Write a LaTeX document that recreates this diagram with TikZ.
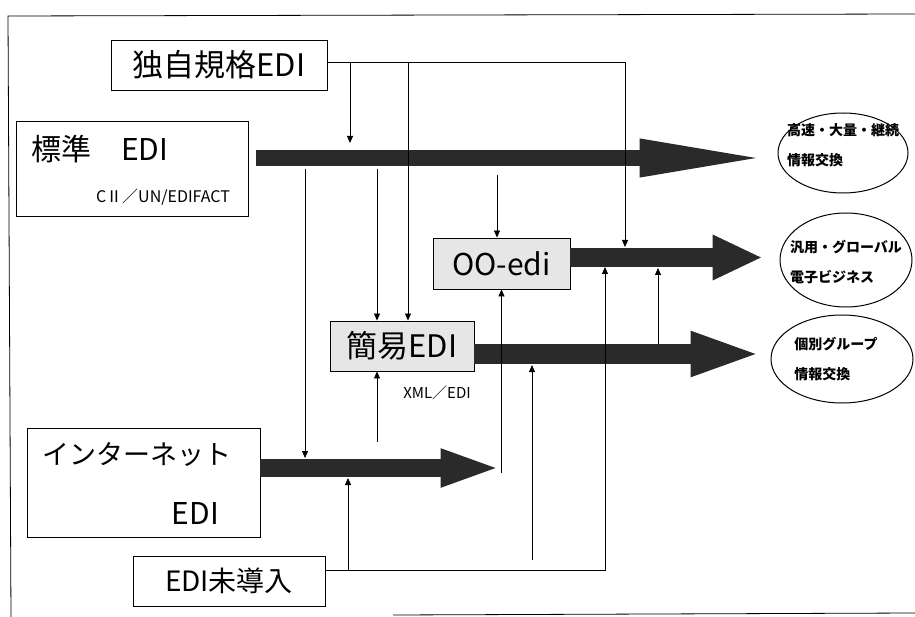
\documentclass[tikz,border=0pt]{standalone}
\usepackage{fontspec}
\setmainfont{Noto Sans CJK JP}
\usetikzlibrary{arrows.meta,positioning,shapes.geometric,calc}
\definecolor{Fc}{HTML}{2A2A2A}
\definecolor{Sc}{HTML}{E6E6E6}
\tikzset{
  box/.style={rectangle, draw=black, line width=0.9pt, inner sep=0pt},
  sbox/.style={box, fill=Sc},
  oval/.style={ellipse, draw=black, line width=1pt, inner sep=0pt},
  ovaltext/.style={align=left, inner sep=0pt, font=\fontsize{14}{30}\selectfont\bfseries},
  link/.style={-{Triangle[length=7pt,width=6pt]}, line width=0.8pt},
  wire/.style={line width=0.8pt},
  fat/.style n args={3}{draw=Fc, line width=#1, -{Triangle[length=#2,width=#3]}},
}
\newcommand{\fs}[1]{\fontsize{#1}{#1}\selectfont}

\begin{document}
\begin{tikzpicture}[x=1pt, y=-1pt]
  \useasboundingbox (0,0) rectangle (915,617);
  % frame
  \draw[wire] (915,14) -- (8,16) -- (11,617);
  \draw[wire] (393,615) -- (915,613);

  % boxes
  \node[box, minimum width=216pt, minimum height=50pt, font=\fs{31}] (dok) at (219,65) {独自規格EDI};
  \node[box, minimum width=232pt, minimum height=95pt] (std) at (132,168.5) {};
  \node[font=\fs{30}, anchor=west] (stdt) at ([shift={(12,28)}]std.north west) {標準　EDI};
  \node[font=\fs{16}, anchor=east] (stdc) at ([shift={(-15,-19)}]std.south east) {CⅡ／UN/EDIFACT};
  \node[box, minimum width=233pt, minimum height=109pt] (inet) at (143.5,482.5) {};
  \node[font=\fs{27}, anchor=west] (inett) at ([shift={(12,27)}]inet.north west) {インターネット};
  \node[font=\fs{30}, anchor=east] (inete) at ([shift={(-38,-24)}]inet.south east) {EDI};
  \node[box, minimum width=192pt, minimum height=50pt, font=\fs{28}] (mi) at (229,581) {EDI未導入};
  \node[sbox, minimum width=137pt, minimum height=51pt, font=\fs{30}] (oo) at (501.5,263.5) {OO-edi};
  \node[sbox, minimum width=144pt, minimum height=50pt, font=\fs{31}] (kan) at (402,346) {簡易EDI};
  \node[font=\fs{15}] (xml) at (437,393) {XML／EDI};

  % goals
  \node[oval, minimum width=130pt, minimum height=80pt] (e1) at (843,153) {};
  \node[oval, minimum width=132pt, minimum height=94pt] (e2) at (846,260) {};
  \node[oval, minimum width=142pt, minimum height=88pt] (e3) at (842,359) {};
  \node[ovaltext] (e1t) at ([yshift=8pt]e1.center) {高速・大量・継続\\情報交換};
  \node[ovaltext] (e2t) at ([yshift=-2pt]e2.center) {汎用・グローバル\\電子ビジネス};
  \node[ovaltext] (e3t) at ([xshift=-6pt]e3.center) {個別グループ\\情報交換};

  % thick arrows
  \coordinate (a1) at ([xshift=8pt,yshift=10.5pt]std.east);
  \coordinate (a2) at ([yshift=6pt]oo.east);
  \coordinate (a3) at ([yshift=-8pt]kan.east);
  \coordinate (a4) at ([yshift=14.5pt]inet.east);
  \coordinate (j4) at (a4 -| oo.south);
  \draw[fat={16pt}{130pt}{34pt}] (a1) -- ($(a1 -| e1.west)+(-8,0)$);
  \draw[fat={19pt}{50pt}{42pt}] (a2) -- ($(a2 -| e2.west)+(-17,0)$);
  \draw[fat={20pt}{72pt}{40pt}] (a3) -- ($(a3 -| e3.west)+(-8,0)$);
  \draw[fat={18pt}{61pt}{34pt}] (a4) -- (j4);

  % free ends of the thin lines
  \coordinate (d1) at ([yshift=3pt]dok.east);
  \coordinate (m1) at ([yshift=11pt]mi.east);
  \coordinate (t1) at (350,62);   \coordinate (t1e) at (350,143);
  \coordinate (t2) at (408,62);
  \coordinate (t3) at (625,247);
  \coordinate (s1) at (305,169);  \coordinate (s1e) at (305,458);
  \coordinate (s2) at (377,169);
  \coordinate (s3) at (497,175);
  \coordinate (k1) at (377,442);
  \coordinate (j5) at ($(j4)+(0,5)$);
  \coordinate (u1) at (605,267);
  \coordinate (u2) at (348,570);  \coordinate (u2e) at (348,478);
  \coordinate (u3) at (532,560);  \coordinate (u3e) at (532,365);
  \coordinate (u4) at (658,344);  \coordinate (u4e) at (658,268);

  % thin lines
  \draw[link] (d1) -| (t3);
  \draw[link] (t1) -- (t1e);
  \draw[link] (t2) -- ([xshift=6pt]kan.north);
  \draw[link] (s1) -- (s1e);
  \draw[link] (s2) -- ([xshift=-25pt]kan.north);
  \draw[link] (s3) -- ([xshift=-4.5pt]oo.north);
  \draw[link] (k1) -- ([xshift=-25pt]kan.south);
  \draw[link] (j5) -- (oo.south);
  \draw[link] (m1) -| (u1);
  \draw[link] (u2) -- (u2e);
  \draw[link] (u3) -- (u3e);
  \draw[link] (u4) -- (u4e);
\end{tikzpicture}
\end{document}
